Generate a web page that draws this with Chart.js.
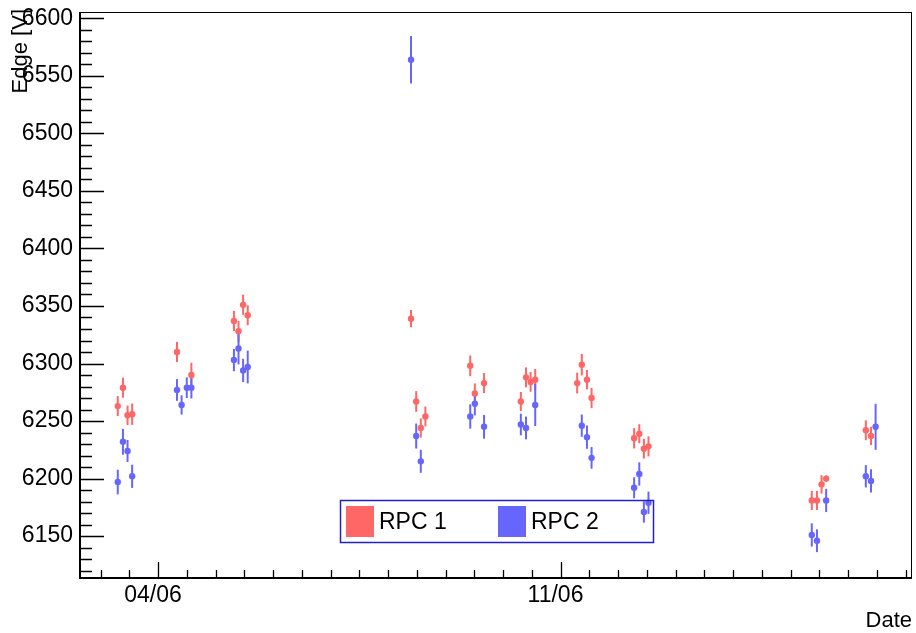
<!DOCTYPE html>
<html>
<head>
<meta charset="utf-8">
<script src="https://cdn.jsdelivr.net/npm/chart.js@4/dist/chart.umd.min.js"></script>
<style>
  html, body { margin: 0; padding: 0; background: #fff; }
</style>
</head>
<body>
<canvas id="myChart" width="916" height="633"></canvas>
<script>
// measurement times, as day of June (04/06 00:00 = 4.0)
const dayOfJune = [3.30, 3.39, 3.47, 3.55, 4.33, 4.41, 4.50, 4.58, 5.32, 5.40, 5.48, 5.56,
  8.40, 8.49, 8.57, 8.65, 9.43, 9.51, 9.67, 10.31, 10.40, 10.48, 10.56,
  11.29, 11.37, 11.46, 11.54, 12.28, 12.37, 12.45, 12.53, 15.37, 15.46, 15.54, 15.62,
  16.31, 16.40, 16.48];

// RPC 1 edge voltage and its error (null = no point)
const rpc1 = [6263, 6279, 6255, 6256, 6310, null, null, 6290, 6337, 6328, 6351, 6342,
  6339, 6267, 6244, 6254, 6298, 6274, 6283, 6267, 6288, 6284, 6286,
  6283, 6299, 6286, 6270, 6235, 6239, 6226, 6228, 6181, 6181, 6195, 6200,
  6242, 6237, null];
const rpc1Err = [8.7, 8.7, 8.4, 9.3, 8.8, null, null, 10.7, 8.8, 9.0, 8.8, 8.7,
  7.5, 9.0, 8.3, 8.6, 9.0, 8.7, 8.7, 8.3, 8.7, 8.6, 9.3,
  9.0, 9.4, 8.4, 8.8, 8.8, 8.3, 8.6, 8.7, 8.3, 8.3, 8.0, 2.6,
  8.6, 8.0, null];

// RPC 2
const rpc2 = [6197, 6232, 6224, 6202, 6277, 6264, 6279, 6279, 6303, 6313, 6294, 6297,
  6564, 6237, 6215, null, 6254, 6265, 6245, 6247, 6244, null, 6264,
  null, 6246, 6236, 6218, 6192, 6204, 6171, 6179, 6151, 6146, null, 6181,
  6202, 6198, 6245];
const rpc2Err = [10.7, 11.3, 9.6, 10.1, 9.4, 8.4, 9.0, 9.4, 9.7, 13.8, 10.1, 14.2,
  20.6, 10.9, 10.0, null, 10.6, 10.1, 10.3, 9.4, 9.9, null, 18.3,
  null, 9.7, 10.1, 9.4, 9.1, 10.1, 9.3, 9.7, 10.1, 9.9, null, 10.1,
  9.7, 10.1, 20];

// tick labels
const xTickDays = [4, 11];
const xTickLabels = ["04/06", "11/06"];
const yTickValues = [6150, 6200, 6250, 6300, 6350, 6400, 6450, 6500, 6550, 6600];

const FONT = '"Liberation Sans", Arial, Helvetica, sans-serif';
const RED = "rgb(255,102,102)";
const BLUE = "rgb(102,102,255)";

function points(values, errs) {
  const out = [];
  dayOfJune.forEach((d, i) => {
    if (values[i] !== null) out.push({ x: d, y: values[i], err: errs[i] });
  });
  return out;
}

function noPadding(s) {
  s.paddingTop = 0;
  s.paddingBottom = 0;
  s.paddingLeft = 0;
  s.paddingRight = 0;
}

// ROOT-like frame, inward ticks, error bars, titles and legend
const rootStyle = {
  id: "rootStyle",
  beforeDatasetsDraw(chart) {
    const ctx = chart.ctx;
    const xs = chart.scales.x, ys = chart.scales.y;
    ctx.save();
    ctx.lineWidth = 2;
    chart.data.datasets.forEach((ds) => {
      ctx.strokeStyle = ds.backgroundColor;
      ds.data.forEach((p) => {
        if (!p.err) return;
        const px = xs.getPixelForValue(p.x);
        ctx.beginPath();
        ctx.moveTo(px, ys.getPixelForValue(p.y - p.err));
        ctx.lineTo(px, ys.getPixelForValue(p.y + p.err));
        ctx.stroke();
      });
    });
    ctx.restore();
  },
  afterDraw(chart) {
    const ctx = chart.ctx;
    const a = chart.chartArea;
    const xs = chart.scales.x, ys = chart.scales.y;
    ctx.save();

    // frame
    ctx.strokeStyle = "#000";
    ctx.lineWidth = 1;
    ctx.strokeRect(a.left + 0.5, a.top + 0.5, a.right - a.left - 1, a.bottom - a.top);
    ctx.lineWidth = 2;
    ctx.beginPath();
    ctx.moveTo(a.left, a.top);
    ctx.lineTo(a.left, a.bottom);
    ctx.lineTo(a.right, a.bottom);
    ctx.stroke();

    // y ticks every 10, major every 50
    ctx.lineWidth = 1.3;
    ctx.beginPath();
    for (let v = Math.ceil(ys.min / 10) * 10; v <= ys.max; v += 10) {
      const py = Math.round(ys.getPixelForValue(v)) + 0.5;
      const len = v % 50 === 0 ? 24 : 12;
      ctx.moveTo(a.left, py);
      ctx.lineTo(a.left + len, py);
    }
    // x ticks every half day, long at labelled days
    for (let v = Math.ceil(xs.min * 2) / 2; v <= xs.max; v += 0.5) {
      const px = Math.round(xs.getPixelForValue(v)) + 0.5;
      const len = xTickDays.includes(v) ? 16 : 8;
      ctx.moveTo(px, a.bottom);
      ctx.lineTo(px, a.bottom - len);
    }
    ctx.stroke();

    // axis titles
    ctx.fillStyle = "#000";
    ctx.font = "22px " + FONT;
    ctx.textAlign = "right";
    ctx.textBaseline = "alphabetic";
    ctx.fillText("Date", a.right, 627);
    ctx.save();
    ctx.translate(27, a.top - 3);
    ctx.rotate(-Math.PI / 2);
    ctx.fillText("Edge [V]", 0, 0);
    ctx.restore();

    // legend box
    ctx.strokeStyle = "#2222c4";
    ctx.lineWidth = 1.5;
    ctx.strokeRect(340.5, 500.5, 313, 42);
    const boxX = [346, 498];
    ctx.font = "23px " + FONT;
    ctx.textAlign = "left";
    ctx.textBaseline = "middle";
    chart.data.datasets.forEach((ds, i) => {
      ctx.fillStyle = ds.backgroundColor;
      ctx.fillRect(boxX[i], 506, 28, 31);
      ctx.fillStyle = "#000";
      ctx.fillText(ds.label, boxX[i] + 33, 523);
    });
    ctx.restore();
  }
};

new Chart(document.getElementById("myChart"), {
  type: "scatter",
  data: {
    datasets: [
      {
        label: "RPC 1",
        data: points(rpc1, rpc1Err),
        backgroundColor: RED,
        pointRadius: 3.2,
        pointBorderWidth: 0,
        order: 2
      },
      {
        label: "RPC 2",
        data: points(rpc2, rpc2Err),
        backgroundColor: BLUE,
        pointRadius: 3.2,
        pointBorderWidth: 0,
        order: 1
      }
    ]
  },
  plugins: [rootStyle],
  options: {
    responsive: false,
    animation: false,
    devicePixelRatio: 1,
    layout: { padding: { top: 12, right: 3, left: 0, bottom: 0 } },
    plugins: { legend: { display: false }, tooltip: { enabled: false } },
    scales: {
      x: {
        type: "linear",
        min: 2.643,
        max: 17.113,
        grid: { display: false, drawTicks: false },
        border: { display: false },
        afterBuildTicks: (s) => { s.ticks = xTickDays.map((v) => ({ value: v })); },
        afterFit: (s) => { s.height = 55; noPadding(s); },
        ticks: {
          autoSkip: false,
          maxRotation: 0,
          padding: 4,
          labelOffset: -5,
          color: "#000",
          font: { family: FONT, size: 23 },
          callback: (v) => {
            const i = xTickDays.findIndex((d) => Math.abs(d - v) < 1e-6);
            return i >= 0 ? xTickLabels[i] : "";
          }
        }
      },
      y: {
        min: 6113.6,
        max: 6605.5,
        grid: { display: false, drawTicks: false },
        border: { display: false },
        afterBuildTicks: (s) => { s.ticks = yTickValues.map((v) => ({ value: v })); },
        afterFit: (s) => { s.width = 80; noPadding(s); },
        ticks: {
          autoSkip: false,
          padding: 7,
          color: "#000",
          font: { family: FONT, size: 23 },
          callback: (v) => String(v)
        }
      }
    }
  }
});
</script>
</body>
</html>
